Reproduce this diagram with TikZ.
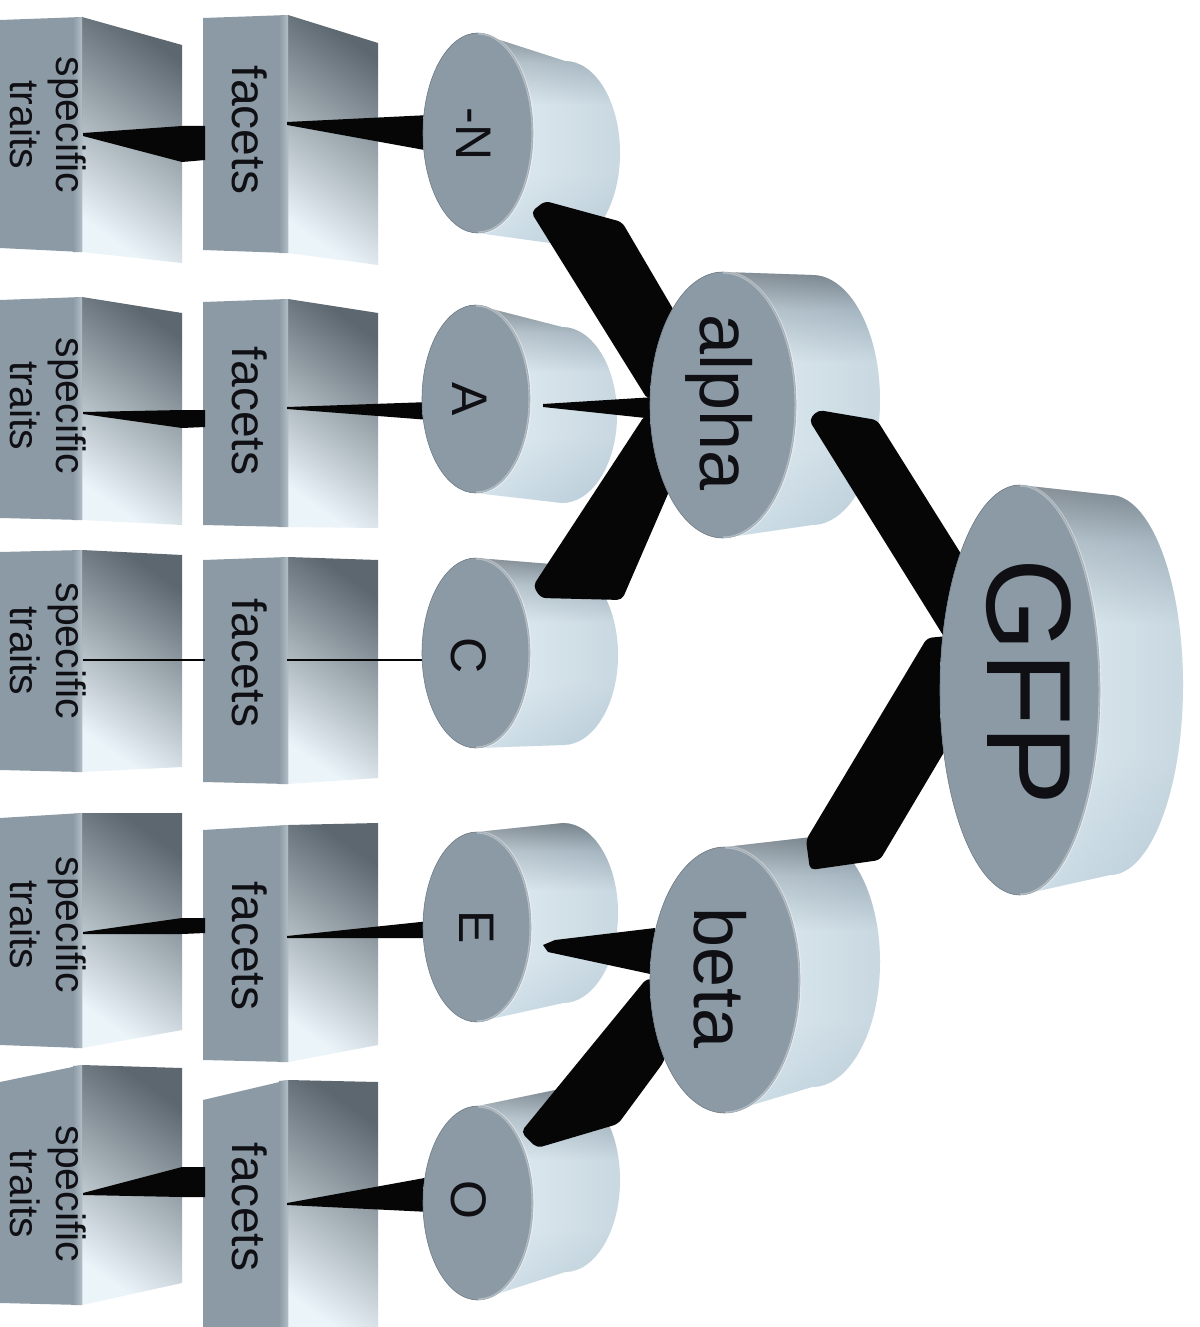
\documentclass[tikz,border=0pt]{standalone}
\usepackage{fontspec}
\setmainfont{Liberation Sans}
\usetikzlibrary{shapes.geometric}

\definecolor{facecol}{RGB}{139,154,165}
\definecolor{bevelcol}{RGB}{178,190,198}
\definecolor{sidedark}{RGB}{92,103,112}
\definecolor{sidelight}{RGB}{234,244,249}
\definecolor{bodydark}{RGB}{92,103,112}
\definecolor{bodymid}{RGB}{170,186,196}
\definecolor{bodylight}{RGB}{228,242,249}
\definecolor{bodylow}{RGB}{200,221,233}
\definecolor{bodyright}{RGB}{150,168,180}
\definecolor{rimcol}{RGB}{112,124,134}
\definecolor{barcol}{RGB}{6,6,6}
\definecolor{inkcol}{RGB}{15,15,20}

% drum side: dark rim along the top, light over most of the body
\pgfdeclareverticalshading{drumshade}{100bp}{%
  color(0bp)=(bodylow); color(25bp)=(bodylow); color(42bp)=(bodylight);
  color(58bp)=(bodylight); color(68bp)=(bodymid); color(75bp)=(bodydark);
  color(100bp)=(bodydark)}

% a box: front face (x0..x1) and receding side face (x1..x2)
% #1 x0, #2 x1, #3 x2, #4 yTL, #5 yTM, #6 yTR, #7 yBL, #8 yBM, #9 yBR
\newcommand{\slab}[9]{%
  \shade[top color=sidedark, bottom color=sidelight, shading angle=-35]
    (#2,#5) -- (#3,#6) -- (#3,#9) -- (#2,#8) -- cycle;
  \fill[facecol] (#1,#4) -- (#2,#5) -- (#2,#8) -- (#1,#7) -- cycle;
  \shade[left color=facecol, right color=bevelcol]
    (#2-9,#5+1) -- (#2,#5) -- (#2,#8) -- (#2-9,#8) -- cycle;
}

% a drum: #1 name, front centre (#2,#3), radii #4,#5; back centre (#6,#7), radii #8,#9
\newcommand{\drumside}[8]{%
  (#1,#2-#4) -- (#5,#6-#8) arc[start angle=-90,end angle=90,x radius=#7,y radius=#8]
    -- (#1,#2+#4) arc[start angle=90,end angle=270,x radius=#3,y radius=#4] -- cycle}
\newcommand{\drum}[9]{%
  \shade[shading=drumshade] \drumside{#2}{#3}{#4}{#5}{#6}{#7}{#8}{#9};
  \shade[left color=white, right color=bodyright, opacity=.35]
    \drumside{#2}{#3}{#4}{#5}{#6}{#7}{#8}{#9};
  \node[drumface, minimum width=2*#4, minimum height=2*#5] (#1) at (#2,#3) {};
  \draw[white, opacity=.35, line width=3pt]
    (#2,#3-#5) arc[start angle=-90,end angle=90,x radius=#4,y radius=#5];
}

\begin{document}
\begin{tikzpicture}[x=1pt,y=-1pt,
  drumface/.style={ellipse, fill=facecol, draw=rimcol, line width=0.6pt,
    inner sep=0pt, outer sep=0pt},
  txt/.style={rotate=-90, text=inkcol, inner sep=0pt},
  traitstxt/.style={txt, align=center, font=\fontsize{41}{46}\selectfont},
  facettxt/.style={txt, font=\fontsize{48}{52}\selectfont},
  lettertxt/.style={txt, font=\fontsize{50}{54}\selectfont},
  midtxt/.style={txt, font=\fontsize{72}{76}\selectfont},
  toptxt/.style={txt, font=\fontsize{120}{124}\selectfont},
  bar/.style={fill=barcol, rounded corners=5pt},
  wedge/.style={fill=barcol},
]
\useasboundingbox (0,0) rectangle (1199,1327);
\fill[white] (0,0) rectangle (1199,1327);

% ---- boxes: specific traits and facets, five rows ----
\slab{0}{82}{182}{20}{17}{45}{248}{252}{263}
\slab{203}{288}{378}{18}{15}{43}{250}{253}{265}
\slab{0}{82}{182}{300}{297}{313}{518}{520}{525}
\slab{203}{288}{378}{302}{299}{313}{525}{527}{528}
\slab{0}{82}{182}{552}{550}{555}{770}{772}{767}
\slab{203}{288}{378}{560}{557}{560}{782}{784}{778}
\slab{0}{82}{182}{818}{813}{813}{1045}{1048}{1030}
\slab{203}{288}{378}{830}{825}{823}{1060}{1062}{1045}
\slab{0}{82}{182}{1082}{1065}{1068}{1303}{1305}{1283}
\slab{203}{288}{378}{1100}{1080}{1082}{1340}{1340}{1330}

\node[traitstxt] (s1) at (48,125) {specific\\traits};
\node[traitstxt] (s2) at (48,406) {specific\\traits};
\node[traitstxt] (s3) at (48,651) {specific\\traits};
\node[traitstxt] (s4) at (48,925) {specific\\traits};
\node[traitstxt] (s5) at (48,1194) {specific\\traits};

\node[facettxt] (f1) at (250,130) {facets};
\node[facettxt] (f2) at (250,411) {facets};
\node[facettxt] (f3) at (250,663) {facets};
\node[facettxt] (f4) at (250,946) {facets};
\node[facettxt] (f5) at (250,1207) {facets};

% ---- links between boxes and the small drums ----
\fill[wedge] (83,133) -- (182,126) -- (205,126) -- (205,160) -- (182,162) -- (83,136) -- cycle;
\fill[wedge] (287,122) -- (430,115) -- (430,151) -- (287,125) -- cycle;
\fill[wedge] (83,412) -- (182,410) -- (205,410) -- (205,427) -- (182,428) -- (83,414) -- cycle;
\fill[wedge] (287,407) -- (430,402) -- (430,420) -- (287,409) -- cycle;
\draw[barcol, line width=1.6pt] (83,660) -- (205,660);
\draw[barcol, line width=1.6pt] (287,660) -- (430,660);
\fill[wedge] (83,932) -- (182,918) -- (205,918) -- (205,933) -- (182,934) -- (83,934) -- cycle;
\fill[wedge] (287,936) -- (430,921) -- (430,938) -- (287,938) -- cycle;
\fill[wedge] (83,1193) -- (182,1167) -- (205,1167) -- (205,1197) -- (182,1197) -- (83,1195) -- cycle;
\fill[wedge] (287,1203) -- (430,1177) -- (430,1212) -- (287,1205) -- cycle;

% ---- small drums ----
\drum{N}{478}{133}{55}{100}{565}{153}{55}{92}
\node[lettertxt] at (N.center) [xshift=1pt, yshift=-4pt] {-N};
\drum{A}{476}{399}{54}{94}{562}{415}{55}{88}
\node[lettertxt] at (A.center) [yshift=-6pt] {A};
\drum{C}{476}{653}{54}{95}{563}{655}{55}{90}
\node[lettertxt] at (C.center) [xshift=3pt, yshift=-7pt] {C};
\drum{E}{477}{927}{54}{95}{563}{913}{55}{90}
\node[lettertxt] at (E.center) {E};
\drum{O}{478}{1203}{55}{97}{565}{1180}{55}{92}
\node[lettertxt] at (O.center) [xshift=-3pt, yshift=-9pt] {O};

% ---- bars from alpha and beta to the small drums ----
\fill[bar] (531,212) -- (545,201) -- (622,222) -- (700,355) -- (648,400) -- cycle;
\fill[wedge] (543,404) -- (655,397) -- (655,419) -- (543,407) -- cycle;
\fill[bar] (533,586) -- (645,415) -- (700,420) -- (622,600) -- (541,598) -- cycle;
\fill[wedge] (543,945) -- (555,940) -- (655,928) -- (655,975) -- (548,952) -- cycle;
\fill[bar] (521,1132) -- (647,978) -- (690,990) -- (663,1063) -- (618,1124) -- (537,1148) -- cycle;

% ---- alpha and beta ----
\drum{alpha}{723}{405}{73}{133}{812}{400}{68}{125}
\node[midtxt] at (719,403) {alpha};
\drum{beta}{725}{980}{75}{133}{812}{962}{68}{125}
\node[midtxt] at (720,978) {beta};

% ---- bars from GFP ----
\fill[bar] (809,420) -- (818,410) -- (877,420) -- (990,600) -- (946,640) -- cycle;
\fill[bar] (927,638) -- (806,840) -- (810,870) -- (880,860) -- (975,700) -- (948,636) -- cycle;

% ---- GFP ----
\drum{GFP}{1020}{690}{80}{205}{1110}{685}{73}{190}
\node[toptxt] at (1029,682) {GFP};
\end{tikzpicture}
\end{document}
